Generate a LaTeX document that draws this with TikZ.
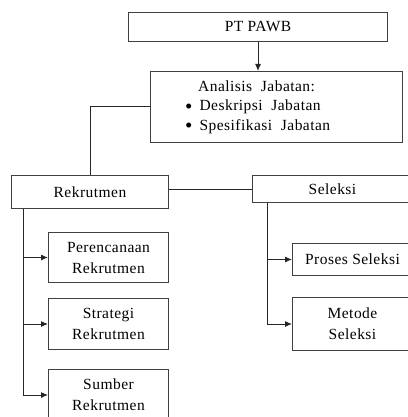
\documentclass[tikz,border=0pt]{standalone}
\usepackage{fontspec}
\setmainfont{Liberation Serif}[LetterSpace=3]
\usetikzlibrary{arrows.meta}
\newcommand{\titik}{\raisebox{-2.5pt}{\fontsize{21}{19.5}\selectfont\textbullet}}
\tikzset{
  kotak/.style={draw=black!75, line width=1pt, anchor=north west, inner sep=0pt, align=center},
  garis/.style={draw=black!85, line width=1pt},
  panah/.style={garis, -{Latex[length=7pt,width=6pt]}}
}
\begin{document}
\begin{tikzpicture}[x=1pt,y=-1pt,font=\fontsize{15.5}{21}\selectfont]
\useasboundingbox (0,0) rectangle (407,417);
\node[kotak, minimum width=259pt, minimum height=29pt] (pt) at (128,12) {PT PAWB};
\node[kotak, minimum width=252pt, minimum height=71pt] (ana) at (150,71) {};
\node[anchor=west, inner sep=0pt, font=\fontsize{15.5}{19.5}\selectfont] (isi) at (185,107)
  {\begin{tabular}{@{}l@{\hspace{7pt}}l@{}}
   \multicolumn{2}{@{}l}{\hspace{13pt}Analisis\ \ Jabatan:}\\
   \titik & Deskripsi\ \ Jabatan\\
   \titik & Spesifikasi\ \ Jabatan
   \end{tabular}};
\node[kotak, minimum width=157pt, minimum height=33pt] (rek) at (11,175) {Rekrutmen};
\node[kotak, minimum width=160pt, minimum height=27pt] (sel) at (252,175) {Seleksi};
\node[kotak, minimum width=120pt, minimum height=50pt] (per) at (48,232) {Perencanaan\\Rekrutmen};
\node[kotak, minimum width=120pt, minimum height=51pt] (str) at (48,298) {Strategi\\Rekrutmen};
\node[kotak, minimum width=120pt, minimum height=51pt] (sum) at (48,369) {Sumber\\Rekrutmen};
\node[kotak, minimum width=120pt, minimum height=32pt] (pro) at (292,243) {Proses Seleksi};
\node[kotak, minimum width=120pt, minimum height=53pt] (met) at (292,297) {Metode\\Seleksi};
% garis penghubung
\draw[panah] (pt.south) -- (pt.south |- ana.north);
\draw[garis] (ana.west) -| (rek.north);
\draw[garis] (sel.west -| rek.east) -- (sel.west);
\coordinate (akar1) at ([xshift=12pt]rek.south west);
\coordinate (akar2) at ([xshift=15pt]sel.south west);
\foreach \n in {per,str,sum}
  \draw[panah] (akar1) |- (\n.west);
\foreach \n in {pro,met}
  \draw[panah] (akar2) |- (\n.west);
\end{tikzpicture}
\end{document}
